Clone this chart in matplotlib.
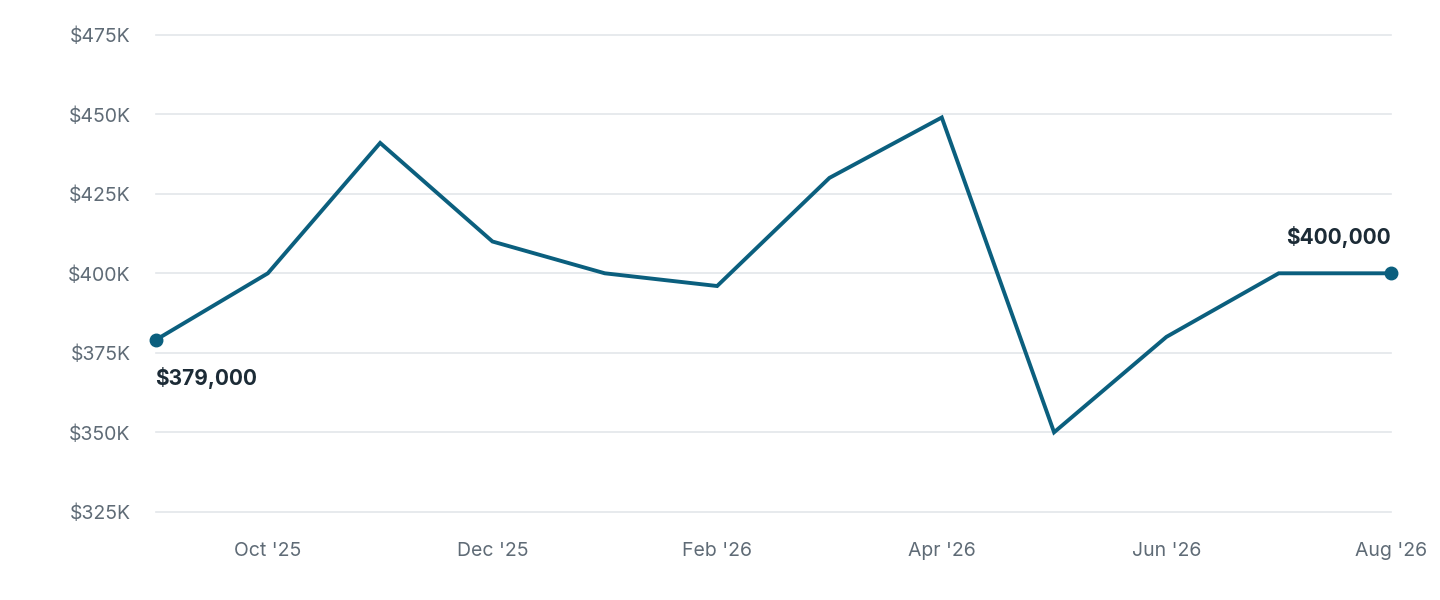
import matplotlib
matplotlib.use("Agg")
import matplotlib.pyplot as plt

plt.rcParams['font.family'] = ['Inter', 'DejaVu Sans']

months = ["Sep '25","Oct '25","Nov '25","Dec '25","Jan '26","Feb '26","Mar '26","Apr '26","May '26","Jun '26","Jul '26","Aug '26"]
values = [379000,400000,441000,410000,400000,396000,430000,449000,350000,380000,400000,400000]
yticks = [325000,350000,375000,400000,425000,450000,475000]

color = "#0b5f7e"
fig = plt.figure(figsize=(14.4, 6), dpi=100)
ax = fig.add_axes([0.108, 0.147, 0.858, 0.795])
x = list(range(len(values)))
ax.plot(x, values, color=color, lw=2.8, solid_joinstyle="miter", zorder=3)
ax.plot([x[0], x[-1]], [values[0], values[-1]], "o", color=color, ms=9, zorder=4, clip_on=False)
ax.set_xlim(0, len(values) - 1)
ax.set_ylim(325000, 475000)
ax.set_yticks(yticks)
ax.set_yticklabels([f"${v//1000}K" for v in yticks])
ax.set_xticks(x[1::2])
ax.set_xticklabels(months[1::2])
for s in ax.spines.values():
    s.set_visible(False)
ax.grid(axis="y", color="#e3e6ea", lw=1.2)
for gl in ax.get_ygridlines():
    gl.set_clip_on(False)
ax.set_axisbelow(True)
ax.tick_params(length=0, labelsize=14, colors="#5f6b76", pad=22)
ax.tick_params(axis="y", pad=18)
ax.text(x[0], values[0] - 8500, f"${values[0]:,}", ha="left", va="top", fontsize=15, fontweight="bold", color="#1c2b36")
ax.text(x[-1], values[-1] + 8000, f"${values[-1]:,}", ha="right", va="bottom", fontsize=15, fontweight="bold", color="#1c2b36")
fig.savefig("out.png", dpi=100)
